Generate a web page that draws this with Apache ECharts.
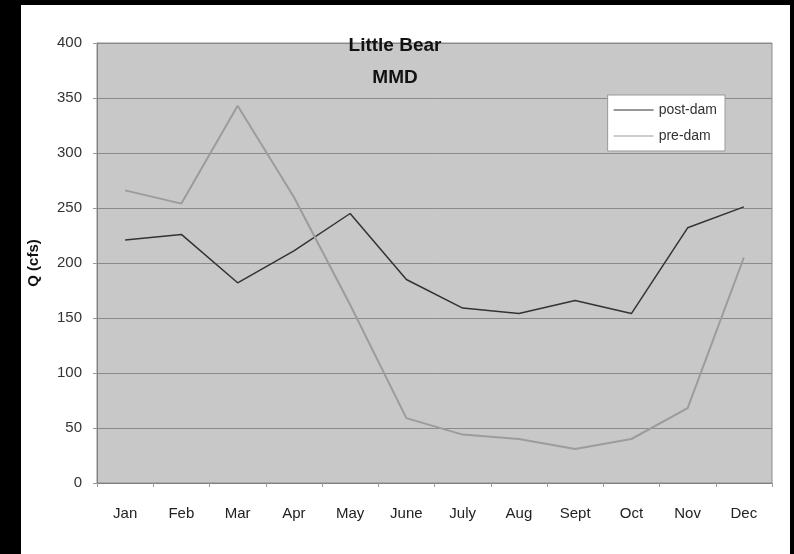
<!DOCTYPE html>
<html>
<head>
<meta charset="utf-8">
<script src="https://cdn.jsdelivr.net/npm/echarts@6/dist/echarts.min.js"></script>
<style>
  html, body { margin: 0; padding: 0; background: #000; }
  #chart { position: absolute; left: 21px; top: 5px; width: 769px; height: 549px; background: #fff; }
</style>
</head>
<body>
<div id="chart"></div>
<script>
const months = ['Jan', 'Feb', 'Mar', 'Apr', 'May', 'June', 'July', 'Aug', 'Sept', 'Oct', 'Nov', 'Dec']
const postDam = [221, 226, 182, 211, 245, 185, 159, 154, 166, 154, 232, 251]
const preDam = [266, 254, 343, 260, 162, 59, 44, 40, 31, 40, 68, 205]

const chart = echarts.init(document.getElementById('chart'))
chart.setOption({
  animation: false,
  textStyle: { fontFamily: 'Liberation Sans, Arial, sans-serif' },
  title: {
    text: 'Little Bear\nMMD',
    left: 369,
    top: 20,
    textAlign: 'center',
    textStyle: { fontSize: 19, fontWeight: 'bold', color: '#111', lineHeight: 32 }
  },
  legend: {
    orient: 'vertical',
    right: 65,
    top: 90,
    backgroundColor: '#fff',
    borderColor: '#999',
    borderWidth: 1,
    borderRadius: 0,
    padding: [8, 8, 8, 6],
    itemGap: 12,
    itemWidth: 40,
    itemHeight: 12,
    icon: 'path://M0,5.5L40,5.5L40,6.5L0,6.5Z',
    textStyle: { fontSize: 14, color: '#333' },
    data: ['post-dam', 'pre-dam']
  },
  grid: {
    left: 76,
    right: 18,
    top: 38,
    bottom: 71,
    outerBoundsMode: 'none',
    show: true,
    backgroundColor: '#c8c8c8',
    borderColor: '#8c8c8c',
    borderWidth: 1
  },
  xAxis: {
    type: 'category',
    boundaryGap: true,
    data: months,
    axisLine: { lineStyle: { color: '#808080' } },
    axisTick: { show: true, length: 4, lineStyle: { color: '#999' } },
    axisLabel: { color: '#222', fontSize: 15, margin: 23 }
  },
  yAxis: {
    type: 'value',
    min: 0,
    max: 400,
    interval: 50,
    name: 'Q (cfs)',
    nameLocation: 'middle',
    nameGap: 56,
    nameTextStyle: { fontSize: 15, fontWeight: 'bold', color: '#111' },
    axisLine: { show: true, lineStyle: { color: '#808080' } },
    axisTick: { show: true, length: 4, lineStyle: { color: '#999' } },
    axisLabel: { color: '#333', fontSize: 15, margin: 15 },
    splitLine: { lineStyle: { color: '#8a8a8a', width: 1 } }
  },
  series: [
    {
      name: 'post-dam',
      type: 'line',
      data: postDam,
      symbol: 'none',
      lineStyle: { color: '#333', width: 1.5 },
      itemStyle: { color: '#333' }
    },
    {
      name: 'pre-dam',
      type: 'line',
      data: preDam,
      symbol: 'none',
      lineStyle: { color: '#9c9c9c', width: 2 },
      itemStyle: { color: '#9c9c9c' }
    }
  ]
})
</script>
</body>
</html>
